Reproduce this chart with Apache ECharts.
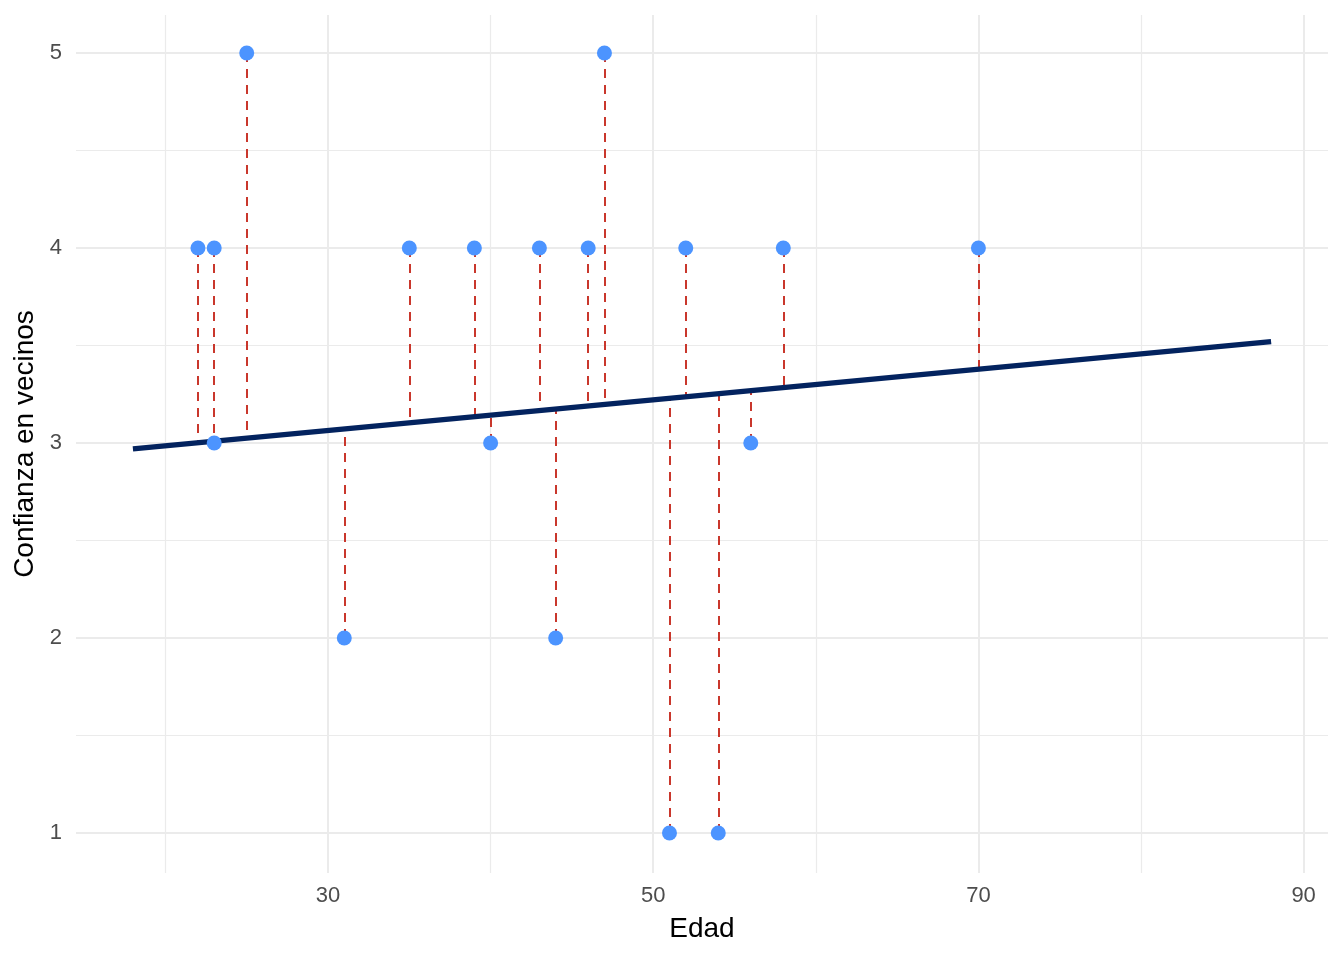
<!DOCTYPE html>
<html>
<head>
<meta charset="utf-8">
<script src="https://cdn.jsdelivr.net/npm/echarts@6/dist/echarts.min.js"></script>
<style>
  html, body { margin: 0; padding: 0; background: #fff; }
  #chart { width: 1344px; height: 960px; }
</style>
</head>
<body>
<div id="chart"></div>
<script>
// datos
const edad = [22, 23, 23, 25, 31, 35, 39, 40, 43, 44, 46, 47, 51, 52, 54, 56, 58, 70];
const confianza = [4, 4, 3, 5, 2, 4, 4, 3, 4, 2, 4, 5, 1, 4, 1, 3, 4, 4];
// valor ajustado (sobre la recta) donde termina cada segmento
const ajustado = [3.001, 3.009, 3.009, 3.025, 3.072, 3.104, 3.135, 3.143, 3.167, 3.174,
                  3.190, 3.198, 3.229, 3.237, 3.253, 3.269, 3.284, 3.379];
// extremos de la recta de regresion
const rectaX = [18, 88];
const rectaY = [2.97, 3.52];

const xTicks = [30, 50, 70, 90];
const xMinor = [20, 40, 60, 80];
const yTicks = [1, 2, 3, 4, 5];
const yMinor = [1.5, 2.5, 3.5, 4.5];

const chart = echarts.init(document.getElementById('chart'));

const gridColor = '#EBEBEB';
function gridLines(vals, key, width) {   // lineas de la rejilla
  return vals.map(v => ({ [key]: v, lineStyle: { width: width } }));
}

const option = {
  animation: false,
  backgroundColor: '#fff',
  textStyle: { fontFamily: 'Liberation Sans, Arial, sans-serif' },
  grid: { left: 76, right: 16, top: 15, bottom: 87 },
  xAxis: {
    type: 'value',
    min: 14.5,
    max: 91.5,
    name: 'Edad',
    nameLocation: 'middle',
    nameGap: 42,
    nameTextStyle: { fontSize: 28, color: '#000' },
    axisLine: { show: false },
    axisTick: { show: false },
    splitLine: { show: false },
    axisLabel: {
      customValues: xTicks,
      fontSize: 22,
      color: '#4D4D4D',
      margin: 12
    }
  },
  yAxis: {
    type: 'value',
    min: 0.795,
    max: 5.195,
    name: 'Confianza en vecinos',
    nameLocation: 'middle',
    nameGap: 35,
    nameRotate: 90,
    nameTextStyle: { fontSize: 28, color: '#000' },
    axisLine: { show: false },
    axisTick: { show: false },
    splitLine: { show: false },
    axisLabel: {
      customValues: yTicks,
      fontSize: 22,
      color: '#4D4D4D',
      margin: 14
    }
  },
  series: [
    {   // rejilla
      type: 'line',
      data: [],
      silent: true,
      z: 1,
      markLine: {
        silent: true,
        z: 1,
        symbol: ['none', 'none'],
        label: { show: false },
        animation: false,
        lineStyle: { color: gridColor, type: 'solid' },
        data: [].concat(
          gridLines(xMinor, 'xAxis', 1.2),
          gridLines(yMinor, 'yAxis', 1.2),
          gridLines(xTicks, 'xAxis', 2),
          gridLines(yTicks, 'yAxis', 2)
        )
      }
    },
    {   // residuos
      type: 'lines',
      coordinateSystem: 'cartesian2d',
      silent: true,
      z: 3,
      lineStyle: { color: '#C9372C', width: 2, type: [9, 7], opacity: 1 },
      data: edad.map((x, i) => ({ coords: [[x, confianza[i]], [x, ajustado[i]]] }))
    },
    {   // recta de regresion
      type: 'line',
      silent: true,
      z: 4,
      symbol: 'none',
      lineStyle: { color: '#03235F', width: 5.5 },
      data: rectaX.map((x, i) => [x, rectaY[i]])
    },
    {   // puntos
      type: 'scatter',
      silent: true,
      z: 5,
      symbolSize: 15,
      itemStyle: { color: '#4C94FF', opacity: 1 },
      data: edad.map((x, i) => [x, confianza[i]])
    }
  ]
};

chart.setOption(option);
</script>
</body>
</html>
